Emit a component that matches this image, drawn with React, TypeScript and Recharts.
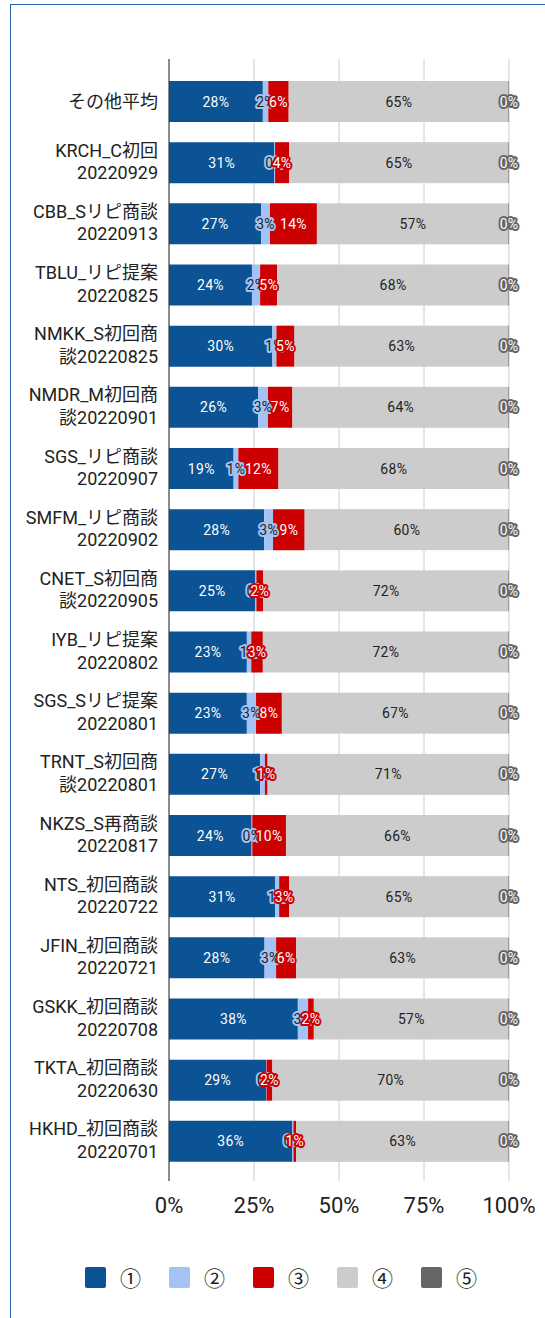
import React from 'react';
import { Bar, BarChart, CartesianGrid, LabelList, XAxis, YAxis } from 'recharts';

const categories = [
  'その他平均',
  'KRCH_C初回\n20220929',
  'CBB_Sリピ商談\n20220913',
  'TBLU_リピ提案\n20220825',
  'NMKK_S初回商\n談20220825',
  'NMDR_M初回商\n談20220901',
  'SGS_リピ商談\n20220907',
  'SMFM_リピ商談\n20220902',
  'CNET_S初回商\n談20220905',
  'IYB_リピ提案\n20220802',
  'SGS_Sリピ提案\n20220801',
  'TRNT_S初回商\n談20220801',
  'NKZS_S再商談\n20220817',
  'NTS_初回商談\n20220722',
  'JFIN_初回商談\n20220721',
  'GSKK_初回商談\n20220708',
  'TKTA_初回商談\n20220630',
  'HKHD_初回商談\n20220701',
];

const s1 = [27.6, 31.0, 27.1, 24.4, 30.4, 26.2, 19.0, 28.0, 25.4, 22.9, 22.9, 26.8, 24.3, 31.2, 28.1, 37.9, 28.6, 36.3];
const s2 = [1.6, 0.2, 2.6, 2.4, 1.2, 2.9, 1.4, 2.6, 0.3, 1.3, 2.7, 1.4, 0.2, 1.2, 3.4, 3.0, 0.1, 0.3];
const s3 = [6.0, 4.1, 13.8, 5.0, 5.3, 7.2, 11.8, 9.3, 2.0, 3.4, 7.6, 0.8, 9.9, 2.9, 5.9, 1.7, 1.7, 0.8];
const s4 = [64.8, 64.7, 56.5, 68.2, 63.1, 63.7, 67.8, 60.1, 72.3, 72.4, 66.8, 71.0, 65.6, 64.7, 62.6, 57.4, 69.6, 62.6];
const s5 = [0, 0, 0, 0, 0, 0, 0, 0, 0, 0, 0, 0, 0, 0, 0, 0, 0, 0];

const seriesNames = ['①', '②', '③', '④', '⑤'];
const xTicks = [0, 25, 50, 75, 100];

const series = [s1, s2, s3, s4, s5];
const keys = ['s1', 's2', 's3', 's4', 's5'];
const colors = ['#0b5394', '#a4c2f4', '#cc0000', '#cccccc', '#666666'];
const textColors = ['#ffffff', '#222222', '#ffffff', '#222222', '#ffffff'];

const data = categories.map((name, i) => {
  const row: Record<string, any> = { name };
  keys.forEach((k, j) => { row[k] = series[j][i]; });
  return row;
});

const FONT = 'Roboto, "Noto Sans CJK JP", sans-serif';

function CategoryTick({ x, y, payload }: any) {
  const lines = String(payload.value).split('\n');
  const first = lines.length === 1 ? 6 : -6;
  return (
    <text x={x} y={y} textAnchor="end" fill="#222" fontSize={18} fontFamily={FONT}>
      {lines.map((l, i) => (
        <tspan key={i} x={x} y={y + first + i * 22.5}>{l}</tspan>
      ))}
    </text>
  );
}

function PercentTick({ x, y, payload }: any) {
  return (
    <text x={x} y={y + 32} textAnchor="middle" fill="#222" fontSize={22} fontFamily={FONT}>
      {payload.value}%
    </text>
  );
}

function SegLabel({ cx, cy, k, v }: { cx: number; cy: number; k: number; v: number }) {
  return (
    <text
      x={cx}
      y={cy + 5}
      textAnchor="middle"
      fontSize={14}
      fontFamily={FONT}
      fill={textColors[k]}
      stroke={colors[k]}
      strokeWidth={4}
      strokeLinejoin="round"
      paintOrder="stroke"
      letterSpacing={0.3}
    >
      {Math.round(v)}%
    </text>
  );
}

// ⑤ is 0 in every row, so the library draws nothing for it; its thin mark and
// label are placed from the end of the ④ segment, using that segment's own px/unit.
const makeLabel = (k: number) => (props: any) => {
  const vb = props.viewBox ?? props;
  const { x, y, width, height } = vb;
  const i = props.index;
  const v = series[k][i];
  if (v === undefined) return null;
  const cy = y + height / 2;
  if (k !== 3) return <SegLabel cx={x + width / 2} cy={cy} k={k} v={v} />;
  const px = width / v;
  const end = x + width;
  const w5 = s5[i] * px;
  return (
    <g>
      <SegLabel cx={x + width / 2} cy={cy} k={3} v={v} />
      <SegLabel cx={end + w5 / 2} cy={cy} k={4} v={s5[i]} />
    </g>
  );
};

function GreyShape(props: any) {
  const { x, y, width, height, index } = props;
  const px = width / s4[index];
  const w5 = Math.max(1, s5[index] * px);
  return (
    <g>
      <rect x={x} y={y} width={width} height={height} fill={colors[3]} />
      <rect x={x + width - 0.5} y={y} width={w5} height={height} fill={colors[4]} />
    </g>
  );
}

export default function App() {
  return (
    <div style={{ position: 'absolute', left: 0, top: 0, width: 545, height: 1318, overflow: 'hidden', background: '#fff' }}>
      <div style={{ position: 'absolute', left: 10, top: 4, width: 600, height: 1400, borderTop: '1px solid #2a63ad', borderLeft: '1px solid #2a63ad' }} />
      <div style={{ position: 'absolute', left: 0, top: 0 }}>
        <BarChart
          width={545}
          height={1318}
          data={data}
          layout="vertical"
          barSize={41}
          barGap={-41}
          margin={{ top: 59, right: 36, bottom: 97, left: 0 }}
        >
          <CartesianGrid horizontal={false} stroke="#cccccc" />
          <XAxis
            type="number"
            domain={[0, 100]}
            ticks={xTicks}
            allowDataOverflow
            axisLine={false}
            tickLine={false}
            tickSize={0}
            tickMargin={0}
            height={40}
            tick={<PercentTick />}
            interval={0}
          />
          <YAxis
            type="category"
            dataKey="name"
            width={169}
            axisLine={{ stroke: '#333333' }}
            tickLine={false}
            tickSize={0}
            tickMargin={11}
            padding={{ top: 12, bottom: 9 }}
            tick={<CategoryTick />}
            interval={0}
          />
          {keys.map((k, j) => (
            <Bar
              key={k}
              dataKey={k}
              stackId="a"
              fill={colors[j]}
              shape={j === 3 ? <GreyShape /> : undefined}
              isAnimationActive={false}
            />
          ))}
          {keys.slice(0, 4).map((k, j) => (
            <Bar key={'lbl' + k} dataKey={k} stackId="b" fill="#000" fillOpacity={0} isAnimationActive={false}>
              <LabelList dataKey={k} content={makeLabel(j)} />
            </Bar>
          ))}
        </BarChart>
      </div>
      {seriesNames.map((n, i) => (
        <div
          key={n}
          style={{ position: 'absolute', left: 85 + 84 * i, top: 1267, height: 21, display: 'flex', alignItems: 'center' }}
        >
          <span style={{ display: 'inline-block', width: 21, height: 21, borderRadius: 2, background: colors[i] }} />
          <span style={{ marginLeft: 14, fontSize: 21, lineHeight: '21px', color: '#222', fontFamily: '"Noto Sans CJK JP", sans-serif' }}>{n}</span>
        </div>
      ))}
    </div>
  );
}
